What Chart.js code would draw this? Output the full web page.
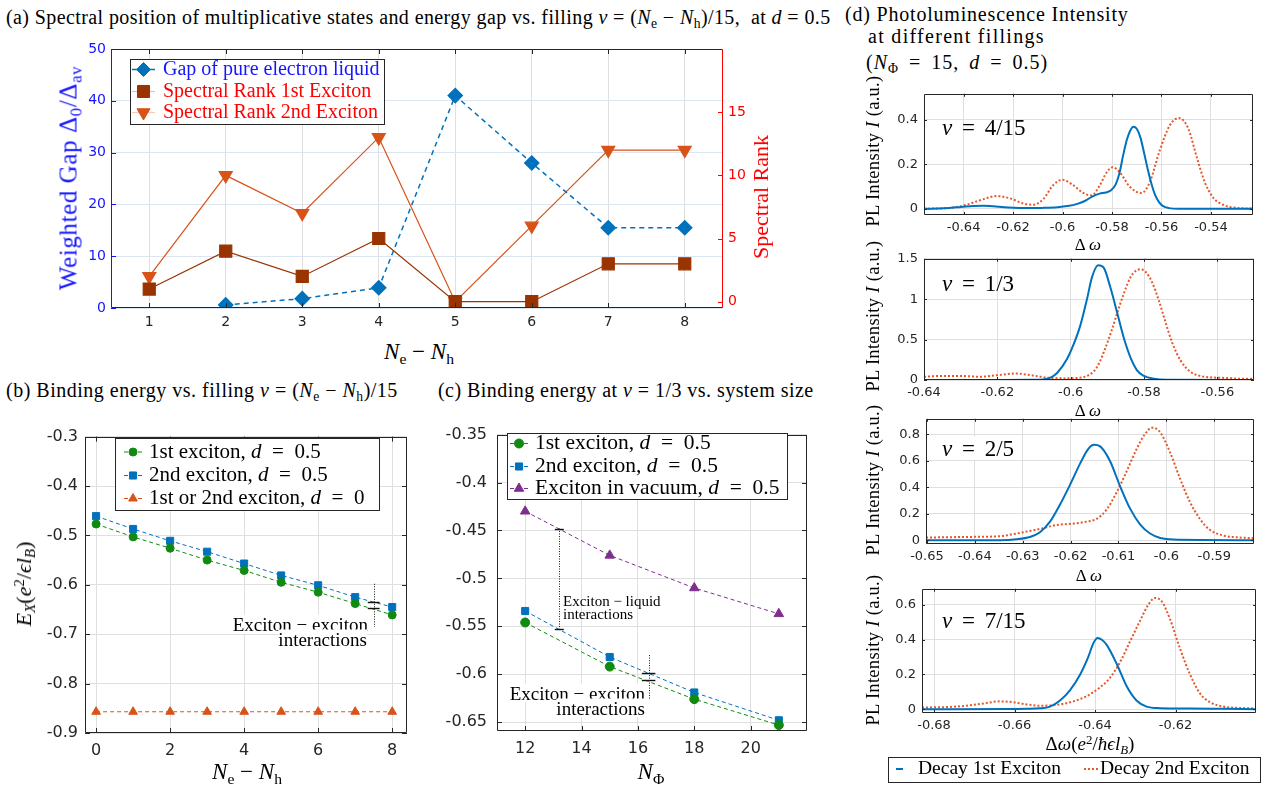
<!DOCTYPE html>
<html>
<head>
<meta charset="utf-8">
<script src="https://cdn.jsdelivr.net/npm/chart.js@4.4.1/dist/chart.umd.min.js"></script>
<style>
  body { margin: 0; background: #fff; }
  #page { position: relative; width: 1269px; height: 785px; overflow: hidden; font-family: "Liberation Serif", serif; color: #000; }
  canvas { position: absolute; }
  .t, .rot, .ctr, .r { position: absolute; white-space: nowrap; line-height: 1; }
  .t { transform: translateY(-50%); }
  .ctr { transform: translate(-50%, -50%); }
  .r { transform: translate(-100%, -50%); background: #fff; }
  .rot { transform: translate(-50%, -50%) rotate(-90deg); }
  sub, sup { font-size: 68%; line-height: 0; position: relative; vertical-align: baseline; }
  sub { bottom: -0.3em; }
  sup { top: -0.45em; }
  .nu { word-spacing: 4px; }
</style>
</head>
<body>
<div id="page">
  <canvas id="ca" width="720" height="300" style="left:70px;top:35px"></canvas>
  <canvas id="cb" width="385" height="350" style="left:30px;top:420px"></canvas>
  <canvas id="cc" width="375" height="345" style="left:440px;top:415px"></canvas>
  <canvas id="cd1" width="385" height="160" style="left:880px;top:80px"></canvas>
  <canvas id="cd2" width="385" height="155" style="left:880px;top:245px"></canvas>
  <canvas id="cd3" width="385" height="160" style="left:880px;top:405px"></canvas>
  <canvas id="cd4" width="385" height="210" style="left:880px;top:575px"></canvas>

  <!-- panel titles -->
  <div class="t" style="left:6px;top:17px;font-size:20px;letter-spacing:0.4px">(a) Spectral position of multiplicative states and energy gap vs. filling <i>&nu;</i> = (<i>N</i><sub>e</sub> &minus; <i>N</i><sub>h</sub>)/15, &nbsp;at <i>d</i> = 0.5</div>
  <div class="t" style="left:6px;top:390px;font-size:20px;letter-spacing:0.5px">(b) Binding energy vs. filling <i>&nu;</i> = (<i>N</i><sub>e</sub> &minus; <i>N</i><sub>h</sub>)/15</div>
  <div class="t" style="left:438px;top:390px;font-size:20px;letter-spacing:0.45px">(c) Binding energy at <i>&nu;</i> = 1/3 vs. system size</div>
  <div class="t" style="left:845px;top:14px;font-size:20px;letter-spacing:0.8px">(d) Photoluminescence Intensity</div>
  <div class="t" style="left:868px;top:36px;font-size:20px;letter-spacing:1.3px">at different fillings</div>
  <div class="t" style="left:866px;top:62px;font-size:20px;letter-spacing:1px;word-spacing:4px">(<i>N</i><sub>&Phi;</sub> = 15, <i>d</i> = 0.5)</div>

  <!-- axis titles -->
  <div class="ctr" style="left:419px;top:351px;font-size:23px"><i>N</i><sub>e</sub> &minus; <i>N</i><sub>h</sub></div>
  <div class="rot" style="left:68px;top:178px;font-size:25px;letter-spacing:0.6px;color:#1515ff">Weighted Gap &Delta;<sub>0</sub>/&Delta;<sub>av</sub></div>
  <div class="rot" style="left:761px;top:197px;font-size:22px;color:#ff0000">Spectral Rank</div>
  <div class="ctr" style="left:247px;top:771px;font-size:23px"><i>N</i><sub>e</sub> &minus; <i>N</i><sub>h</sub></div>
  <div class="rot" style="left:24px;top:584px;font-size:22px"><i>E<sub>X</sub></i>(<i>e</i><sup>2</sup>/<i>&#1013;l<sub>B</sub></i>)</div>
  <div class="ctr" style="left:651px;top:771px;font-size:23px"><i>N</i><sub>&Phi;</sub></div>
  <div class="rot" style="left:873px;top:151px;font-size:18.5px;letter-spacing:0.3px">PL Intensity <i>I</i> (a.u.)</div>
  <div class="rot" style="left:873px;top:316px;font-size:18.5px;letter-spacing:0.3px">PL Intensity <i>I</i> (a.u.)</div>
  <div class="rot" style="left:873px;top:480px;font-size:18.5px;letter-spacing:0.3px">PL Intensity <i>I</i> (a.u.)</div>
  <div class="rot" style="left:873px;top:650px;font-size:18.5px;letter-spacing:0.3px">PL Intensity <i>I</i> (a.u.)</div>
  <div class="ctr" style="left:1088px;top:244px;font-size:17px">&Delta; <i>&omega;</i></div>
  <div class="ctr" style="left:1088px;top:410px;font-size:17px">&Delta; <i>&omega;</i></div>
  <div class="ctr" style="left:1089px;top:575px;font-size:17px">&Delta; <i>&omega;</i></div>
  <div class="ctr" style="left:1090px;top:743px;font-size:19px">&Delta;<i>&omega;</i>(<i>e</i><sup>2</sup>/<i>&#295;&#1013;l<sub>B</sub></i>)</div>

  <!-- filling labels -->
  <div class="t nu" style="left:942px;top:127px;font-size:23px"><i>&nu;</i> = 4/15</div>
  <div class="t nu" style="left:942px;top:283px;font-size:23px"><i>&nu;</i> = 1/3</div>
  <div class="t nu" style="left:942px;top:448px;font-size:23px;background:#fff"><i>&nu;</i> = 2/5</div>
  <div class="t nu" style="left:942px;top:620px;font-size:23px"><i>&nu;</i> = 7/15</div>

  <!-- interaction notes -->
  <div class="r" style="left:368px;top:624px;font-size:19px">Exciton &minus; exciton</div>
  <div class="r" style="left:367px;top:639px;font-size:19px">interactions</div>
  <div class="t" style="left:563px;top:601px;font-size:15px">Exciton &minus; liquid</div>
  <div class="t" style="left:563px;top:614px;font-size:15px">interactions</div>
  <div class="r" style="left:645px;top:693px;font-size:19px">Exciton &minus; exciton</div>
  <div class="r" style="left:645px;top:708px;font-size:19px">interactions</div>
</div>

<script>
// (a) gap and spectral ranks vs Ne - Nh
const fillN = [1, 2, 3, 4, 5, 6, 7, 8];
const gapVals = [null, 0.6, 1.8, 3.9, 41, 28, 15.5, 15.5];
const rank1st = [1, 4, 2, 5, 0, 0, 3, 3];
const rank2nd = [2, 10, 7, 13, 0, 6, 12, 12];
const aTicksX = [1, 2, 3, 4, 5, 6, 7, 8];
const aTicksGap = [0, 10, 20, 30, 40, 50];
const aTicksRank = [0, 5, 10, 15];

// (b) binding energy vs Ne - Nh
const bN = [0, 1, 2, 3, 4, 5, 6, 7, 8];
const bFirst = [-0.477, -0.503, -0.526, -0.550, -0.571, -0.595, -0.615, -0.638, -0.661];
const bSecond = [-0.461, -0.487, -0.511, -0.533, -0.557, -0.581, -0.601, -0.625, -0.645];
const bZeroD = [-0.857, -0.857, -0.857, -0.857, -0.857, -0.857, -0.857, -0.857, -0.857];
const bTicksX = [0, 2, 4, 6, 8];
const bTicksY = [-0.9, -0.8, -0.7, -0.6, -0.5, -0.4, -0.3];

// (c) binding energy vs N_phi
const cN = [12, 15, 18, 21];
const cFirst = [-0.546, -0.592, -0.626, -0.653];
const cSecond = [-0.534, -0.582, -0.619, -0.648];
const cVacuum = [-0.430, -0.476, -0.510, -0.537];
const cTicksX = [12, 14, 16, 18, 20];
const cTicksY = [-0.65, -0.6, -0.55, -0.5, -0.45, -0.4, -0.35];

// interaction markers: dotted spans [x, from, to], caps [x, y, half width]
const bSpans = [[7.5, -0.598, -0.685]];
const bCaps = [[7.5, -0.635, 0.16], [7.5, -0.647, 0.16]];
const cSpans = [[13.21, -0.448, -0.5525], [16.38, -0.58, -0.626]];
const cCaps = [[13.21, -0.448, 0.16], [13.21, -0.5525, 0.16], [16.38, -0.599, 0.24], [16.38, -0.6065, 0.24]];

// (d) PL spectra
const d1BlueX = [-0.656, -0.648, -0.641, -0.636, -0.632, -0.628, -0.622, -0.615, -0.608, -0.602, -0.598, -0.594, -0.591, -0.588, -0.585, -0.5825, -0.5805, -0.5785, -0.577, -0.5755, -0.574, -0.5727, -0.5714, -0.570, -0.5685, -0.567, -0.5655, -0.564, -0.5625, -0.561, -0.5595, -0.557, -0.553, -0.523];
const d1BlueY = [0, 0.002, 0.008, 0.013, 0.014, 0.011, 0.006, 0.003, 0.004, 0.007, 0.012, 0.022, 0.035, 0.055, 0.068, 0.073, 0.082, 0.11, 0.16, 0.24, 0.31, 0.35, 0.369, 0.36, 0.32, 0.25, 0.175, 0.11, 0.06, 0.03, 0.013, 0.003, 0, 0];
const d1OrangeX = [-0.656, -0.6455, -0.6388, -0.6334, -0.6267, -0.6213, -0.6159, -0.6119, -0.6078, -0.6038, -0.600, -0.5957, -0.5916, -0.5883, -0.5849, -0.5822, -0.5798, -0.5768, -0.5728, -0.5681, -0.5647, -0.5607, -0.5566, -0.5529, -0.5492, -0.5458, -0.5425, -0.5391, -0.5351, -0.5297, -0.523];
const d1OrangeY = [0, 0.004, 0.018, 0.038, 0.057, 0.047, 0.024, 0.018, 0.043, 0.106, 0.13, 0.106, 0.071, 0.06, 0.106, 0.163, 0.187, 0.163, 0.099, 0.071, 0.12, 0.262, 0.376, 0.408, 0.362, 0.234, 0.12, 0.05, 0.018, 0.004, 0.001];
const d2BlueX = [-0.64, -0.62, -0.61, -0.607, -0.6055, -0.6037, -0.601, -0.5992, -0.5974, -0.5955, -0.5942, -0.5925, -0.591, -0.5892, -0.5873, -0.5855, -0.5837, -0.5819, -0.58, -0.5773, -0.574, -0.55];
const d2BlueY = [0, 0, 0.002, 0.01, 0.03, 0.087, 0.26, 0.44, 0.67, 1.01, 1.27, 1.42, 1.39, 1.15, 0.83, 0.52, 0.28, 0.12, 0.05, 0.015, 0.003, 0];
const d2OrangeX = [-0.64, -0.6356, -0.6302, -0.6247, -0.6201, -0.6147, -0.611, -0.6065, -0.6019, -0.5983, -0.5951, -0.5928, -0.5905, -0.5887, -0.5873, -0.5855, -0.5837, -0.5823, -0.581, -0.5796, -0.5778, -0.576, -0.5741, -0.5723, -0.57, -0.5673, -0.5646, -0.5609, -0.5573, -0.5536, -0.55];
const d2OrangeY = [0.04, 0.05, 0.05, 0.04, 0.06, 0.08, 0.06, 0.03, 0.02, 0.025, 0.06, 0.16, 0.4, 0.63, 0.83, 1.07, 1.27, 1.35, 1.37, 1.34, 1.21, 0.99, 0.71, 0.46, 0.24, 0.1, 0.05, 0.03, 0.025, 0.015, 0.015];
const d3BlueX = [-0.6502, -0.6348, -0.6313, -0.6285, -0.6264, -0.6243, -0.6222, -0.6201, -0.618, -0.6163, -0.6151, -0.6139, -0.6118, -0.6097, -0.6076, -0.6055, -0.6034, -0.6013, -0.5986, -0.5817];
const d3BlueY = [0, 0, 0.007, 0.024, 0.06, 0.14, 0.27, 0.42, 0.58, 0.69, 0.72, 0.71, 0.6, 0.41, 0.24, 0.12, 0.05, 0.017, 0.005, 0];
const d3OrangeX = [-0.6502, -0.6403, -0.6348, -0.632, -0.6292, -0.6264, -0.6229, -0.6194, -0.6167, -0.6146, -0.6125, -0.6104, -0.6083, -0.6062, -0.6045, -0.603, -0.6014, -0.5993, -0.5972, -0.5951, -0.593, -0.591, -0.5881, -0.5847, -0.5817];
const d3OrangeY = [0.02, 0.025, 0.03, 0.045, 0.065, 0.085, 0.115, 0.125, 0.14, 0.16, 0.23, 0.36, 0.52, 0.69, 0.8, 0.85, 0.82, 0.67, 0.47, 0.29, 0.16, 0.08, 0.035, 0.02, 0.015];
const d4BlueX = [-0.683, -0.6619, -0.657, -0.6537, -0.6512, -0.6487, -0.6462, -0.6437, -0.6417, -0.6404, -0.6394, -0.6383, -0.6371, -0.6346, -0.6321, -0.6297, -0.6272, -0.6239, -0.6164, -0.6081, -0.6];
const d4BlueY = [0, 0.001, 0.002, 0.005, 0.015, 0.05, 0.11, 0.2, 0.3, 0.38, 0.41, 0.4, 0.37, 0.26, 0.13, 0.05, 0.015, 0.006, 0.004, 0.002, 0];
const d4OrangeX = [-0.683, -0.6769, -0.6719, -0.6677, -0.6636, -0.6603, -0.657, -0.6537, -0.6495, -0.6454, -0.6421, -0.6388, -0.6363, -0.6338, -0.6313, -0.6288, -0.6268, -0.6251, -0.6234, -0.6214, -0.6189, -0.6164, -0.6139, -0.6114, -0.6081, -0.604, -0.6];
const d4OrangeY = [0.01, 0.012, 0.02, 0.033, 0.045, 0.04, 0.027, 0.02, 0.025, 0.045, 0.075, 0.125, 0.18, 0.27, 0.39, 0.51, 0.6, 0.64, 0.62, 0.52, 0.35, 0.2, 0.09, 0.04, 0.015, 0.007, 0.004];
const d1TicksX = [-0.64, -0.62, -0.6, -0.58, -0.56, -0.54];
const d2TicksX = [-0.64, -0.62, -0.6, -0.58, -0.56];
const d3TicksX = [-0.65, -0.64, -0.63, -0.62, -0.61, -0.6, -0.59];
const d4TicksX = [-0.68, -0.66, -0.64, -0.62];
const d1TicksY = [0, 0.2, 0.4];
const d2TicksY = [0, 0.5, 1, 1.5];
const d3TicksY = [0, 0.2, 0.4, 0.6, 0.8];
const d4TicksY = [0, 0.2, 0.4, 0.6];
const decayLabels = ['Decay 1st Exciton', 'Decay 2nd Exciton'];

const dark = '#262626';
const gridCol = '#dfdfdf';
const blue = '#0072BD';
const brown = '#993300';
const orange = '#D95319';
const green = '#118a11';
const purple = '#7E2F8E';
const plOrange = '#e4582a';
const EQ = '\u2002=\u2002';

const pts = (xs, ys) => xs.map((x, i) => ({ x: x, y: ys[i] }));
const fmt = v => String(Number(Number(v).toFixed(4)));
const setTicks = vals => s => { s.ticks = vals.map(v => ({ value: v })); };

function xAxis(min, max, vals, h, size, pad) {
  return {
    type: 'linear', min: min, max: max,
    afterBuildTicks: setTicks(vals),
    afterFit: s => { s.height = h; },
    grid: { color: gridCol, drawTicks: false },
    border: { display: false },
    ticks: { font: { family: 'DejaVu Sans', size: size }, color: dark, padding: pad, maxRotation: 0, autoSkip: false, callback: fmt }
  };
}
function yAxis(min, max, vals, w, size, pad, extra) {
  return Object.assign({
    type: 'linear', min: min, max: max, position: 'left',
    afterBuildTicks: setTicks(vals),
    afterFit: s => { s.width = w; },
    grid: { color: gridCol, drawTicks: false },
    border: { display: false },
    ticks: { font: { family: 'DejaVu Sans', size: size }, color: dark, padding: pad, autoSkip: false, callback: fmt }
  }, extra || {});
}

// box around the plot with inward tick marks
function frame(len, colors, mirrorY) {
  return {
    id: 'frame',
    afterDatasetsDraw(chart) {
      const ctx = chart.ctx, a = chart.chartArea;
      const c = Object.assign({ top: dark, bottom: dark, left: dark, right: dark }, colors || {});
      const seg = (col, x1, y1, x2, y2) => { ctx.strokeStyle = col; ctx.beginPath(); ctx.moveTo(x1, y1); ctx.lineTo(x2, y2); ctx.stroke(); };
      ctx.save();
      ctx.lineWidth = 1;
      Object.values(chart.scales).forEach(s => {
        s.ticks.forEach(t => {
          const p = Math.round(s.getPixelForValue(t.value)) + 0.5;
          if (s.axis === 'x') {
            seg(c.bottom, p, a.bottom, p, a.bottom - len);
            seg(c.top, p, a.top, p, a.top + len);
          } else {
            if (s.position === 'left') seg(c.left, a.left, p, a.left + len, p);
            if (s.position === 'right' || mirrorY) seg(c.right, a.right, p, a.right - len, p);
          }
        });
      });
      const L = Math.round(a.left) + 0.5, R = Math.round(a.right) - 0.5;
      const T = Math.round(a.top) + 0.5, B = Math.round(a.bottom) - 0.5;
      seg(c.top, L, T, R, T);
      seg(c.bottom, L, B, R, B);
      seg(c.left, L, T, L, B);
      seg(c.right, R, T, R, B);
      ctx.restore();
    }
  };
}

// dotted spans with caps, placed through the scales
function brackets(spans, caps) {
  return {
    id: 'brackets',
    afterDatasetsDraw(chart) {
      const ctx = chart.ctx, xs = chart.scales.x, ys = chart.scales.y;
      ctx.save();
      ctx.strokeStyle = '#111';
      ctx.lineWidth = 1;
      ctx.setLineDash([1, 1.5]);
      spans.forEach(([x, y1, y2]) => {
        const px = Math.round(xs.getPixelForValue(x)) + 0.5;
        ctx.beginPath(); ctx.moveTo(px, ys.getPixelForValue(y1)); ctx.lineTo(px, ys.getPixelForValue(y2)); ctx.stroke();
      });
      ctx.setLineDash([]);
      ctx.lineWidth = 1.4;
      caps.forEach(([x, y, hw]) => {
        const py = Math.round(ys.getPixelForValue(y)) + 0.5;
        ctx.beginPath(); ctx.moveTo(xs.getPixelForValue(x - hw), py); ctx.lineTo(xs.getPixelForValue(x + hw), py); ctx.stroke();
      });
      ctx.restore();
    }
  };
}

// boxed legend at page coordinates
function legendBox(box, rows) {
  return {
    id: 'legendBox',
    afterDraw(chart) {
      const ctx = chart.ctx;
      ctx.save();
      ctx.translate(-chart.canvas.offsetLeft, -chart.canvas.offsetTop);
      ctx.fillStyle = '#fff';
      ctx.fillRect(box.x, box.y, box.w, box.h);
      ctx.strokeStyle = dark;
      ctx.lineWidth = 1;
      ctx.strokeRect(box.x + 0.5, box.y + 0.5, box.w, box.h);
      rows.forEach(r => {
        const ds = chart.data.datasets[r.ds];
        ctx.save();
        ctx.globalAlpha = r.lineAlpha === undefined ? 1 : r.lineAlpha;
        ctx.strokeStyle = ds.borderColor;
        ctx.lineWidth = ds.borderWidth;
        ctx.setLineDash(ds.borderDash || []);
        ctx.beginPath(); ctx.moveTo(r.x1, r.y); ctx.lineTo(r.x2, r.y); ctx.stroke();
        ctx.restore();
        if (ds.pointRadius) {
          ctx.fillStyle = ds.pointBackgroundColor;
          ctx.strokeStyle = ds.pointBorderColor;
          ctx.lineWidth = 1;
          Chart.helpers.drawPoint(ctx, { pointStyle: ds.pointStyle, radius: ds.pointRadius, rotation: ds.pointRotation || 0, borderWidth: 1 }, (r.x1 + r.x2) / 2, r.y);
        }
        let x = r.tx;
        ctx.textBaseline = 'middle';
        ctx.fillStyle = r.color || '#000';
        r.text.forEach(([s, it]) => {
          ctx.font = (it ? 'italic ' : '') + box.font;
          ctx.fillText(s, x, r.y);
          x += ctx.measureText(s).width;
        });
      });
      ctx.restore();
    }
  };
}

const base = { responsive: false, animation: false, plugins: { legend: { display: false }, tooltip: { enabled: false } } };

// ---------- (a)
new Chart(document.getElementById('ca'), {
  type: 'line',
  data: {
    datasets: [
      { label: 'Gap of pure electron liquid', data: pts(fillN, gapVals), yAxisID: 'y', borderColor: blue, borderWidth: 1.5, borderDash: [5, 4],
        pointStyle: 'rectRot', pointRadius: 7, pointBackgroundColor: blue, pointBorderColor: blue },
      { label: 'Spectral Rank 1st Exciton', data: pts(fillN, rank1st), yAxisID: 'y2', borderColor: brown, borderWidth: 1.2,
        pointStyle: 'rect', pointRadius: 8.5, pointBackgroundColor: brown, pointBorderColor: brown },
      { label: 'Spectral Rank 2nd Exciton', data: pts(fillN, rank2nd), yAxisID: 'y2', borderColor: orange, borderWidth: 1.2,
        pointStyle: 'triangle', pointRotation: 180, pointRadius: 7.5, pointBackgroundColor: orange, pointBorderColor: orange }
    ]
  },
  options: Object.assign({}, base, {
    layout: { padding: { top: 14, right: 0, left: 0, bottom: 0 } },
    scales: {
      x: xAxis(0.5, 8.5, aTicksX, 27, 14, 6),
      y: yAxis(0, 50, aTicksGap, 41, 14, 5, { grid: { color: '#dce6f3', drawTicks: false }, ticks: { font: { family: 'DejaVu Sans', size: 14 }, color: '#1515ff', padding: 5, autoSkip: false, callback: fmt } }),
      y2: yAxis(-0.5, 20, aTicksRank, 67, 14, 5, { position: 'right', grid: { display: false, drawTicks: false }, ticks: { font: { family: 'DejaVu Sans', size: 14 }, color: '#ff0000', padding: 5, autoSkip: false, callback: fmt } })
    }
  }),
  plugins: [
    frame(5, { left: '#1515ff', right: '#ff0000' }, false),
    legendBox({ x: 130, y: 59, w: 254, h: 65, font: '20px "Liberation Serif"' }, [
      { ds: 0, y: 69.5, x1: 132, x2: 155, tx: 163, color: '#1515ff', text: [['Gap of pure electron liquid']] },
      { ds: 1, y: 91.5, x1: 132, x2: 155, tx: 163, color: '#ff0000', lineAlpha: 0.3, text: [['Spectral Rank 1st Exciton']] },
      { ds: 2, y: 112.5, x1: 132, x2: 155, tx: 163, color: '#ff0000', lineAlpha: 0.3, text: [['Spectral Rank 2nd Exciton']] }
    ])
  ]
});

// ---------- (b)
new Chart(document.getElementById('cb'), {
  type: 'line',
  data: {
    datasets: [
      { label: '1st exciton, d = 0.5', data: pts(bN, bFirst), borderColor: green, borderWidth: 1, borderDash: [4, 3],
        pointStyle: 'circle', pointRadius: 4, pointBackgroundColor: green, pointBorderColor: green },
      { label: '2nd exciton, d = 0.5', data: pts(bN, bSecond), borderColor: blue, borderWidth: 1, borderDash: [4, 3],
        pointStyle: 'rect', pointRadius: 5, pointBackgroundColor: blue, pointBorderColor: blue },
      { label: '1st or 2nd exciton, d = 0', data: pts(bN, bZeroD), borderColor: orange, borderWidth: 1, borderDash: [4, 3],
        pointStyle: 'triangle', pointRadius: 5, pointBackgroundColor: orange, pointBorderColor: orange }
    ]
  },
  options: Object.assign({}, base, {
    layout: { padding: { top: 12, right: 8, left: 0, bottom: 0 } },
    scales: {
      x: xAxis(-0.3, 8.4, bTicksX, 37, 16, 8),
      y: yAxis(-0.9, -0.3, bTicksY, 55, 16, 7)
    }
  }),
  plugins: [
    frame(5, {}, true),
    brackets(bSpans, bCaps),
    legendBox({ x: 115, y: 438, w: 264, h: 72, font: '21px "Liberation Serif"' }, [
      { ds: 0, y: 452, x1: 124, x2: 142, tx: 149, text: [['1st exciton, '], ['d', true], [EQ + '0.5']] },
      { ds: 1, y: 475.5, x1: 124, x2: 142, tx: 149, text: [['2nd exciton, '], ['d', true], [EQ + '0.5']] },
      { ds: 2, y: 498.5, x1: 124, x2: 142, tx: 149, text: [['1st or 2nd exciton, '], ['d', true], [EQ + '0']] }
    ])
  ]
});

// ---------- (c)
new Chart(document.getElementById('cc'), {
  type: 'line',
  data: {
    datasets: [
      { label: '1st exciton, d = 0.5', data: pts(cN, cFirst), borderColor: green, borderWidth: 1, borderDash: [4, 3],
        pointStyle: 'circle', pointRadius: 4.5, pointBackgroundColor: green, pointBorderColor: green },
      { label: '2nd exciton, d = 0.5', data: pts(cN, cSecond), borderColor: blue, borderWidth: 1, borderDash: [4, 3],
        pointStyle: 'rect', pointRadius: 5, pointBackgroundColor: blue, pointBorderColor: blue },
      { label: 'Exciton in vacuum, d = 0.5', data: pts(cN, cVacuum), borderColor: purple, borderWidth: 1, borderDash: [4, 3],
        pointStyle: 'triangle', pointRadius: 5.5, pointBackgroundColor: purple, pointBorderColor: purple }
    ]
  },
  options: Object.assign({}, base, {
    layout: { padding: { top: 13, right: 8, left: 0, bottom: 0 } },
    scales: {
      x: xAxis(11, 22, cTicksX, 29, 16, 8),
      y: yAxis(-0.6592, -0.35, cTicksY, 57, 16, 10)
    }
  }),
  plugins: [
    frame(5, {}, true),
    brackets(cSpans, cCaps),
    legendBox({ x: 507, y: 433, w: 280, h: 66, font: '21.5px "Liberation Serif"' }, [
      { ds: 0, y: 443.5, x1: 510, x2: 528, tx: 535, text: [['1st exciton, '], ['d', true], [EQ + '0.5']] },
      { ds: 1, y: 466.5, x1: 510, x2: 528, tx: 535, text: [['2nd exciton, '], ['d', true], [EQ + '0.5']] },
      { ds: 2, y: 488.5, x1: 510, x2: 528, tx: 535, text: [['Exciton in vacuum, '], ['d', true], [EQ + '0.5']] }
    ])
  ]
});

// ---------- (d) spectra
function plChart(id, blueX, blueY, orangeX, orangeY, xr, ticksX, yr, ticksY, fit, extraPlugins) {
  return new Chart(document.getElementById(id), {
    type: 'line',
    data: {
      datasets: [
        { label: decayLabels[0], data: pts(blueX, blueY), borderColor: blue, borderWidth: 2, pointRadius: 0, cubicInterpolationMode: 'monotone' },
        { label: decayLabels[1], data: pts(orangeX, orangeY), borderColor: plOrange, borderWidth: 2, borderDash: [2, 2], pointRadius: 0, cubicInterpolationMode: 'monotone' }
      ]
    },
    options: Object.assign({}, base, {
      layout: { padding: { top: fit.top, right: fit.right, left: 0, bottom: 0 } },
      scales: {
        x: xAxis(xr[0], xr[1], ticksX, fit.h, 13, 5),
        y: yAxis(yr[0], yr[1], ticksY, fit.w, 13, 6)
      }
    }),
    plugins: [frame(3, {}, true)].concat(extraPlugins || [])
  });
}

plChart('cd1', d1BlueX, d1BlueY, d1OrangeX, d1OrangeY, [-0.656, -0.523], d1TicksX, [-0.028, 0.517], d1TicksY, { top: 7, right: 12, h: 25, w: 44 });
plChart('cd2', d2BlueX, d2BlueY, d2OrangeX, d2OrangeY, [-0.64, -0.55], d2TicksX, [0, 1.5], d2TicksY, { top: 8, right: 11, h: 20, w: 44 });
plChart('cd3', d3BlueX, d3BlueY, d3OrangeX, d3OrangeY, [-0.6502, -0.5817], d3TicksX, [-0.029, 0.917], d3TicksY, { top: 10, right: 11, h: 21, w: 46 });
plChart('cd4', d4BlueX, d4BlueY, d4OrangeX, d4OrangeY, [-0.683, -0.6], d4TicksX, [-0.022, 0.693], d4TicksY, { top: 11, right: 9, h: 72, w: 42 }, [
  legendBox({ x: 888, y: 757, w: 372, h: 25, font: '19.5px "Liberation Serif"' }, [
    { ds: 0, y: 769, x1: 896, x2: 903, tx: 918, text: [[decayLabels[0]]] },
    { ds: 1, y: 769, x1: 1084, x2: 1098, tx: 1100, text: [[decayLabels[1]]] }
  ])
]);
</script>
</body>
</html>
